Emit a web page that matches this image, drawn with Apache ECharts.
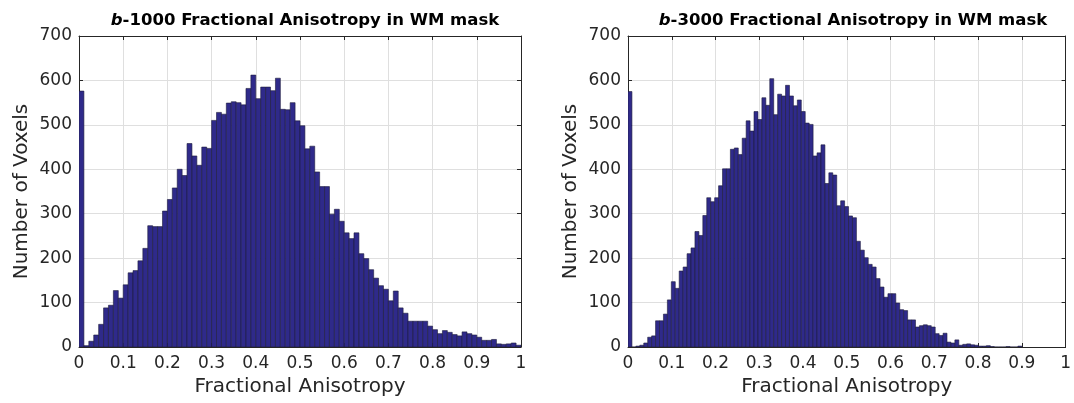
<!DOCTYPE html>
<html>
<head>
<meta charset="utf-8">
<script src="https://cdn.jsdelivr.net/npm/echarts@6/dist/echarts.min.js"></script>
<style>
html,body{margin:0;padding:0;background:#fff;}
#chart{width:1074px;height:403px;}
</style>
</head>
<body>
<div id="chart"></div>
<script>
// ---- data ----
const leftTitle = 'b';
const leftTitleRest = '-1000 Fractional Anisotropy in WM mask';
const rightTitle = 'b';
const rightTitleRest = '-3000 Fractional Anisotropy in WM mask';
const xAxisName = 'Fractional Anisotropy';
const yAxisName = 'Number of Voxels';

// b-1000 histogram: 90 bins spanning 0..1
const leftBinStart = 0;
const leftBinWidth = 1 / 90;
const leftCounts = [
  576, 3, 13, 27, 51, 88, 94, 127, 110, 140,
  167, 172, 194, 222, 273, 271, 271, 306, 332, 358,
  400, 386, 458, 430, 409, 450, 447, 510, 528, 524,
  549, 552, 550, 545, 582, 612, 559, 585, 585, 577,
  605, 535, 534, 550, 509, 498, 446, 452, 394, 361,
  361, 299, 310, 283, 257, 244, 257, 210, 199, 174,
  155, 138, 130, 104, 126, 88, 76, 58, 58, 58,
  58, 47, 39, 30, 37, 33, 28, 25, 34, 30,
  27, 22, 15, 15, 17, 7, 6, 7, 9, 4
];

// b-3000 histogram: 100 bins spanning 0..0.9
const rightBinStart = 0;
const rightBinWidth = 0.009;
const rightCounts = [
  575, 0, 2, 4, 9, 22, 25, 59, 59, 74,
  106, 147, 132, 171, 180, 210, 223, 260, 251, 296,
  336, 327, 336, 363, 401, 401, 445, 448, 433, 470,
  509, 486, 530, 512, 561, 544, 604, 523, 569, 565,
  589, 565, 543, 556, 530, 504, 501, 430, 437, 455,
  368, 392, 387, 318, 329, 316, 295, 291, 238, 218,
  201, 186, 180, 154, 135, 112, 120, 120, 99, 84,
  82, 61, 61, 45, 48, 50, 48, 45, 30, 26,
  31, 11, 9, 16, 4, 6, 7, 5, 4, 2,
  2, 3, 1, 0, 0, 0, 1, 0, 0, 2
];

const xTickValues = [0, 0.1, 0.2, 0.3, 0.4, 0.5, 0.6, 0.7, 0.8, 0.9, 1];
const xTickLabels = ['0', '0.1', '0.2', '0.3', '0.4', '0.5', '0.6', '0.7', '0.8', '0.9', '1'];
const yTickLabels = ['0', '100', '200', '300', '400', '500', '600', '700'];

// ---- build ----
function binTable(start, width, counts) {
  return counts.map((c, i) => [start + i * width, start + (i + 1) * width, c]);
}

const FONT = 'DejaVu Sans';
const TXT = '#262626';
const BAR_FILL = '#2f2a8a';
const BAR_EDGE = '#1d1b3a';
const GRID_COLOR = '#dfdfdf';

function xLabelFmt(v) {
  let best = 0;
  for (let i = 0; i < xTickValues.length; i++) {
    if (Math.abs(xTickValues[i] - v) < Math.abs(xTickValues[best] - v)) best = i;
  }
  return xTickLabels[best];
}
function yLabelFmt(v) {
  const i = Math.round(v / 100);
  return yTickLabels[i] !== undefined ? yTickLabels[i] : String(v);
}

function renderHist(params, api) {
  const x0 = api.value(0), x1 = api.value(1), c = api.value(2);
  const p0 = api.coord([x0, 0]);
  const p1 = api.coord([x1, c]);
  return {
    type: 'rect',
    shape: { x: p0[0], y: p1[1], width: p1[0] - p0[0], height: p0[1] - p1[1] },
    style: { fill: BAR_FILL, stroke: BAR_EDGE, lineWidth: 0.6 }
  };
}

const grids = [
  { left: 79, right: 553, top: 36, bottom: 56 },
  { left: 628, right: 5, top: 36, bottom: 56 }
];

const xAxes = [], yAxes = [];
grids.forEach((g, gi) => {
  xAxes.push({
    type: 'value', gridIndex: gi, position: 'bottom', min: 0, max: 1, interval: 0.1,
    name: xAxisName, nameLocation: 'middle', nameGap: 30,
    nameTextStyle: { fontFamily: FONT, fontSize: 20, color: TXT },
    axisLine: { show: true, onZero: false, lineStyle: { color: TXT, width: 1 } },
    axisTick: { show: true, inside: true, length: 4, lineStyle: { color: TXT } },
    axisLabel: { fontFamily: FONT, fontSize: 17, color: TXT, margin: 8, formatter: xLabelFmt },
    splitLine: { show: true, lineStyle: { color: GRID_COLOR, width: 1 } }
  });
  xAxes.push({
    type: 'value', gridIndex: gi, position: 'top', min: 0, max: 1, interval: 0.1,
    axisLine: { show: true, onZero: false, lineStyle: { color: TXT, width: 1 } },
    axisTick: { show: true, inside: true, length: 4, lineStyle: { color: TXT } },
    axisLabel: { show: false }, splitLine: { show: false }
  });
  yAxes.push({
    type: 'value', gridIndex: gi, position: 'left', min: 0, max: 700, interval: 100,
    name: yAxisName, nameLocation: 'middle', nameGap: 47,
    nameTextStyle: { fontFamily: FONT, fontSize: 20, color: TXT },
    axisLine: { show: true, onZero: false, lineStyle: { color: TXT, width: 1 } },
    axisTick: { show: true, inside: true, length: 4, lineStyle: { color: TXT } },
    axisLabel: { fontFamily: FONT, fontSize: 17, color: TXT, margin: 7, formatter: yLabelFmt },
    splitLine: { show: true, lineStyle: { color: GRID_COLOR, width: 1 } }
  });
  yAxes.push({
    type: 'value', gridIndex: gi, position: 'right', min: 0, max: 700, interval: 100,
    axisLine: { show: true, onZero: false, lineStyle: { color: TXT, width: 1 } },
    axisTick: { show: true, inside: true, length: 4, lineStyle: { color: TXT } },
    axisLabel: { show: false }, splitLine: { show: false }
  });
});

function titleObj(b, rest, centerX) {
  return {
    text: '{i|' + b + '}{n|' + rest + '}',
    left: centerX, top: 7, textAlign: 'center',
    textStyle: {
      rich: {
        i: { fontFamily: FONT, fontSize: 16.5, fontWeight: 'bold', fontStyle: 'italic', color: '#000' },
        n: { fontFamily: FONT, fontSize: 16.5, fontWeight: 'bold', color: '#000' }
      }
    }
  };
}

const option = {
  animation: false,
  backgroundColor: '#fff',
  title: [
    titleObj(leftTitle, leftTitleRest, 300),
    titleObj(rightTitle, rightTitleRest, 848)
  ],
  grid: grids,
  xAxis: xAxes,
  yAxis: yAxes,
  series: [
    {
      type: 'custom', name: 'b-1000', xAxisIndex: 0, yAxisIndex: 0,
      renderItem: renderHist, clip: true,
      encode: { x: [0, 1], y: 2 },
      data: binTable(leftBinStart, leftBinWidth, leftCounts)
    },
    {
      type: 'custom', name: 'b-3000', xAxisIndex: 2, yAxisIndex: 2,
      renderItem: renderHist, clip: true,
      encode: { x: [0, 1], y: 2 },
      data: binTable(rightBinStart, rightBinWidth, rightCounts)
    }
  ]
};

const chart = echarts.init(document.getElementById('chart'), null, { renderer: 'canvas' });
chart.setOption(option);
</script>
</body>
</html>
